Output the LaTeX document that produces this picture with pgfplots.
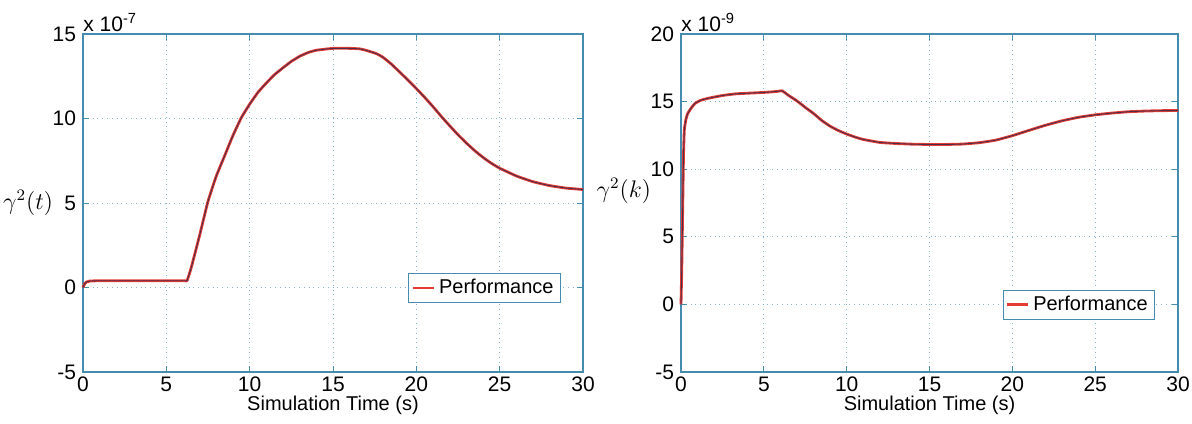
\documentclass[border=0pt]{standalone}
\usepackage{fontspec}
\setmainfont{Liberation Sans}
\usepackage{pgfplots}
\usepackage{pgfplotstable}
\pgfplotsset{compat=1.18}
\definecolor{axc}{RGB}{70,140,175}
\definecolor{gridc}{RGB}{130,180,205}
\definecolor{curve}{RGB}{228,60,50}
\definecolor{core}{RGB}{75,45,75}

% left: gamma^2(t), units of 1e-7
\pgfplotstableread{
t y
0 0
0.05 0.12
0.1 0.22
0.2 0.32
0.4 0.38
1 0.40
3 0.40
5.5 0.40
6.1 0.40
6.25 0.42
6.5 1.2
7 3.1
7.5 5.1
8 6.6
8.5 7.8
9 9.0
9.5 10.05
10 10.85
10.5 11.55
11 12.1
11.5 12.6
12 13.0
12.5 13.38
13 13.68
13.5 13.9
14 14.04
15 14.15
16 14.15
16.6 14.12
17 14.03
17.6 13.84
18 13.62
18.5 13.22
19 12.75
19.5 12.27
20 11.77
20.5 11.25
21 10.7
21.5 10.12
22 9.57
22.5 9.04
23 8.55
23.5 8.1
24 7.7
24.5 7.35
25 7.06
26 6.6
27 6.26
28 6.03
29 5.88
30 5.8
}\lefttab

% right: gamma^2(k), units of 1e-9
\pgfplotstableread{
t y
0 0
0.05 3
0.1 7
0.15 11
0.2 12.9
0.3 13.7
0.4 14.1
0.6 14.5
0.86 14.88
1.2 15.1
1.66 15.25
2.5 15.45
3.27 15.57
4 15.62
4.88 15.67
5.5 15.72
5.9 15.77
6.1 15.8
6.3 15.63
6.5 15.45
7 15.05
7.5 14.57
8 14.12
8.5 13.6
9 13.18
9.5 12.86
10 12.6
10.5 12.38
11 12.2
12 11.98
13 11.9
14 11.85
15 11.83
16 11.83
17 11.86
18 11.96
19 12.15
20 12.48
21 12.87
22 13.25
23 13.58
24 13.84
25 14.02
26 14.15
27 14.25
28 14.3
29 14.33
30 14.34
}\righttab

\pgfplotsset{mystyle/.style={
  scale only axis, height=169pt, clip=false,
  xmin=0, xmax=30, xtick={0,5,...,30},
  axis line style={axc, line width=0.6pt},
  every tick/.style={axc, line width=0.5pt},
  tick align=inside, major tick length=3pt,
  grid=major, grid style={gridc, dotted, line width=0.5pt},
  tick label style={font=\fontsize{10.5}{12}\selectfont, black},
  /pgf/number format/assume math mode=true,
  xlabel={Simulation Time (s)},
  xlabel style={font=\fontsize{10}{12}\selectfont, yshift=5pt},
  xticklabel style={yshift=1pt},
  legend style={draw=axc, fill=white, font=\fontsize{10}{12}\selectfont,
    inner xsep=1.5pt, inner ysep=1pt, anchor=south east},
  legend cell align=left,
  legend image code/.code={\draw[#1] (0cm,0cm) -- (0.36cm,0cm);},
}}

\begin{document}
\begin{tikzpicture}
\useasboundingbox (0,0) rectangle (596pt,211.5pt);
\begin{axis}[mystyle, width=250pt,
  at={(41.5pt,25.5pt)}, anchor=south west,
  ymin=-5, ymax=15, ytick={-5,0,5,10,15},
  every axis y label/.style={at={(rel axis cs:0,0.5)}, anchor=east, xshift=-11.5pt},
  ylabel={\fontsize{11.5}{14}\selectfont$\gamma^2(t)$},
  legend style={at={(rel axis cs:0.956,0.204)}},
]
\addplot[curve, line width=1.4pt, smooth, tension=0.25] table[x=t,y=y] {\lefttab};
\addlegendentry{Performance}
\addplot[core, line width=0.45pt, smooth, tension=0.25, forget plot] table[x=t,y=y] {\lefttab};
\node[anchor=south west, inner sep=0pt, yshift=1pt, font=\fontsize{10.5}{12}\selectfont] at (rel axis cs:0,1) {x 10\textsuperscript{-7}};
\end{axis}
\begin{axis}[mystyle, width=248.5pt,
  at={(340.5pt,25.5pt)}, anchor=south west,
  ymin=-5, ymax=20, ytick={-5,0,5,10,15,20},
  every axis y label/.style={at={(rel axis cs:0,0.535)}, anchor=east, xshift=-11.5pt},
  ylabel={\fontsize{11.5}{14}\selectfont$\gamma^2(k)$},
  legend style={at={(rel axis cs:0.954,0.154)}},
]
\addplot[curve, line width=1.4pt, smooth, tension=0.25] table[x=t,y=y] {\righttab};
\addlegendentry{Performance}
\addplot[core, line width=0.45pt, smooth, tension=0.25, forget plot] table[x=t,y=y] {\righttab};
\node[anchor=south west, inner sep=0pt, yshift=1pt, font=\fontsize{10.5}{12}\selectfont] at (rel axis cs:0,1) {x 10\textsuperscript{-9}};
\end{axis}
\end{tikzpicture}
\end{document}
